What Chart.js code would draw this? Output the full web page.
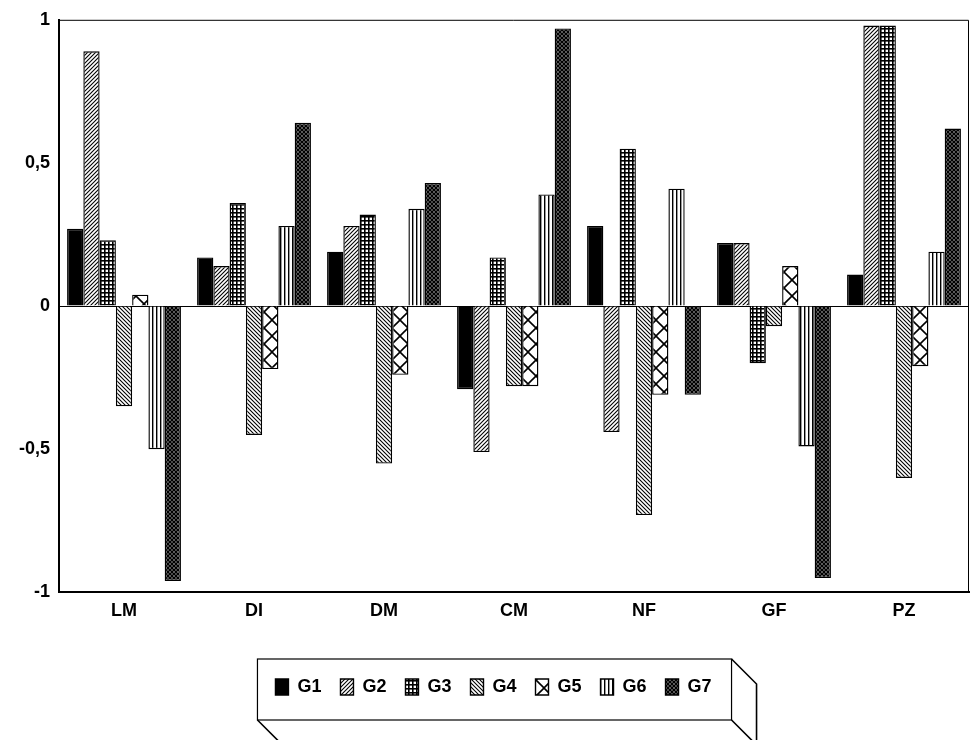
<!DOCTYPE html>
<html>
<head>
<meta charset="utf-8">
<script src="https://cdn.jsdelivr.net/npm/chart.js@4"></script>
<style>
  html, body { margin: 0; padding: 0; background: #fff; }
  canvas { display: block; }
</style>
</head>
<body>
<canvas id="chart" width="971" height="740"></canvas>
<script>
// categories and group values
const categories = ['LM', 'DI', 'DM', 'CM', 'NF', 'GF', 'PZ'];
const g1 = [0.27, 0.17, 0.19, -0.29, 0.28, 0.22, 0.11];
const g2 = [0.89, 0.14, 0.28, -0.51, -0.44, 0.22, 0.98];
const g3 = [0.23, 0.36, 0.32, 0.17, 0.55, -0.20, 0.98];
const g4 = [-0.35, -0.45, -0.55, -0.28, -0.73, -0.07, -0.60];
const g5 = [0.04, -0.22, -0.24, -0.28, -0.31, 0.14, -0.21];
const g6 = [-0.50, 0.28, 0.34, 0.39, 0.41, -0.49, 0.19];
const g7 = [-0.96, 0.64, 0.43, 0.97, -0.31, -0.95, 0.62];
const seriesNames = ['G1', 'G2', 'G3', 'G4', 'G5', 'G6', 'G7'];
const yTicks = [-1, -0.5, 0, 0.5, 1];

const FONT = "'Liberation Sans', Arial, Helvetica, sans-serif";

// small black & white fill patterns like the old plotter hatches
function makePattern(size, draw) {
    const c = document.createElement('canvas');
    c.width = size; c.height = size;
    const x = c.getContext('2d');
    x.fillStyle = '#fff';
    x.fillRect(0, 0, size, size);
    x.strokeStyle = '#000';
    x.fillStyle = '#000';
    draw(x, size);
    return x.createPattern(c, 'repeat');
}
function line(x, a, b, c, d, w) {
    x.lineWidth = w;
    x.beginPath(); x.moveTo(a, b); x.lineTo(c, d); x.stroke();
}

const fills = [
    '#000',
    makePattern(4, (x, s) => { // G2  ////
        line(x, -1, s + 1, s + 1, -1, 1.1);
        line(x, -1, 1, 1, -1, 1.1);
        line(x, s - 1, s + 1, s + 1, s - 1, 1.1);
    }),
    makePattern(4, (x, s) => { // G3 fine grid
        x.fillRect(0, 0, s, 1.6);
        x.fillRect(0, 0, 1.6, s);
    }),
    makePattern(4, (x, s) => { // G4  \\\\
        line(x, -1, -1, s + 1, s + 1, 1.1);
        line(x, -1, s - 1, 1, s + 1, 1.1);
        line(x, s - 1, -1, s + 1, 1, 1.1);
    }),
    makePattern(16, (x, s) => { // G5 open diamonds
        line(x, 0, 0, s, s, 1.6);
        line(x, 0, s, s, 0, 1.6);
    }),
    makePattern(4, (x, s) => { // G6 vertical lines
        x.fillRect(0, 0, 1.4, s);
    }),
    makePattern(4, (x, s) => { // G7 dense cross hatch
        line(x, 0, 0, s, s, 1.6);
        line(x, 0, s, s, 0, 1.6);
    })
];

const values = [g1, g2, g3, g4, g5, g6, g7];
const datasets = seriesNames.map((name, i) => ({
    label: name,
    data: values[i],
    backgroundColor: fills[i],
    borderColor: '#000',
    borderWidth: 1.4,
    categoryPercentage: 0.876,
    barPercentage: 1
}));

// plot frame and the 3D looking legend box
const framePlugin = {
    id: 'frame',
    afterDraw(chart) {
        const ctx = chart.ctx;
        const a = chart.chartArea;
        ctx.save();
        ctx.strokeStyle = '#000';
        ctx.lineWidth = 1;
        ctx.beginPath();
        ctx.moveTo(a.left, a.top + 0.5);
        ctx.lineTo(a.right - 0.5, a.top + 0.5);
        ctx.lineTo(a.right - 0.5, a.bottom);
        ctx.stroke();

        const boxes = chart.legend.legendHitBoxes;
        if (boxes && boxes.length) {
            const first = boxes[0], last = boxes[boxes.length - 1];
            const L = first.left - 18;
            const R = last.left + last.width + 20;
            const T = first.top - 19;
            const B = T + 61;
            const d = 25;
            ctx.lineWidth = 1.2;
            ctx.strokeRect(L, T, R - L, B - T);
            ctx.lineWidth = 1.6;
            ctx.beginPath();
            ctx.moveTo(R, T); ctx.lineTo(R + d, T + d); ctx.lineTo(R + d, B + d);
            ctx.moveTo(R, B); ctx.lineTo(R + d, B + d);
            ctx.moveTo(L, B); ctx.lineTo(L + d, B + d);
            ctx.lineTo(R + d, B + d);
            ctx.stroke();
        }
        ctx.restore();
    }
};

Chart.defaults.color = '#000';

new Chart(document.getElementById('chart').getContext('2d'), {
    type: 'bar',
    data: { labels: categories, datasets: datasets },
    options: {
        responsive: false,
        animation: false,
        layout: { padding: { left: 18, right: 2, top: 18, bottom: 34 } },
        plugins: {
            tooltip: { enabled: false },
            legend: {
                position: 'bottom',
                labels: {
                    boxWidth: 13,
                    boxHeight: 16,
                    padding: 19,
                    font: { family: FONT, size: 18, weight: 'bold' }
                }
            }
        },
        scales: {
            x: {
                grid: { display: false, drawTicks: false },
                border: { display: true, color: '#000', width: 2 },
                ticks: {
                    padding: 8,
                    font: { family: FONT, size: 18, weight: 'bold' }
                },
                afterFit(scale) { scale.height += 29; }
            },
            y: {
                min: -1,
                max: 1,
                afterBuildTicks(scale) { scale.ticks = yTicks.map(v => ({ value: v })); },
                afterFit(scale) { scale.width -= 8; },
                grid: {
                    drawTicks: false,
                    color: c => (c.tick && c.tick.value === 0 ? '#000' : 'rgba(0,0,0,0)'),
                    lineWidth: 1
                },
                border: { display: true, color: '#000', width: 2 },
                ticks: {
                    padding: 9,
                    font: { family: FONT, size: 18, weight: 'bold' },
                    callback: v => String(v).replace('.', ',')
                }
            }
        }
    },
    plugins: [framePlugin]
});
</script>
</body>
</html>
